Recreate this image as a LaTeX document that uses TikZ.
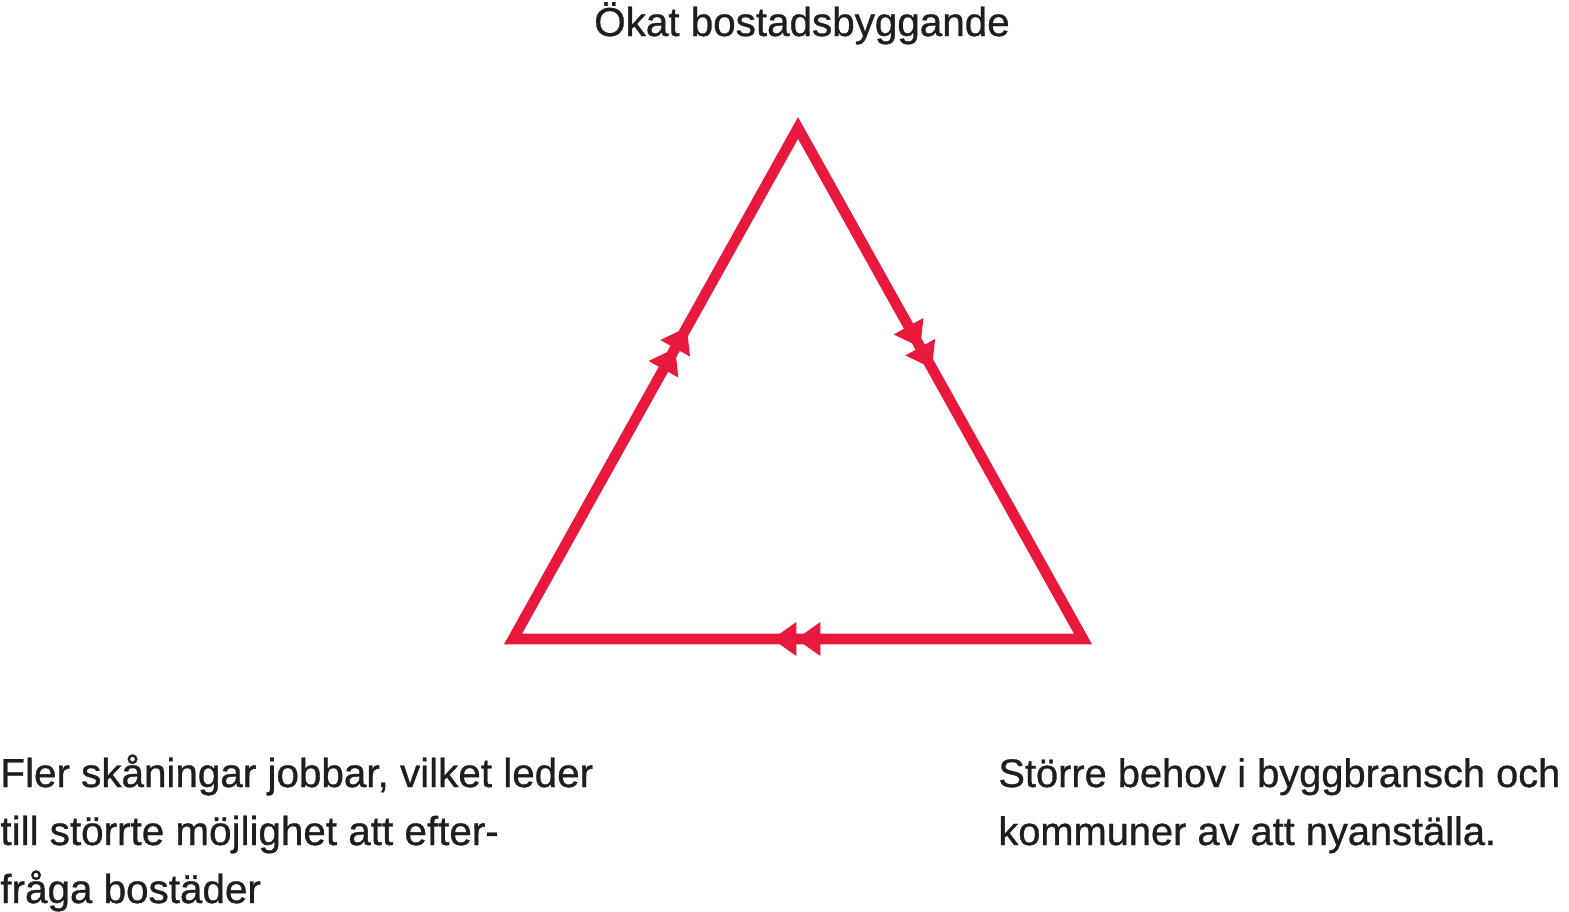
\documentclass[tikz,border=0pt]{standalone}
\usepackage{fontspec}
\setmainfont{Liberation Sans}
\newfontfamily\labelfont{Liberation Sans}[FakeBold=0.8]
\usepackage{xcolor}
\usetikzlibrary{arrows.meta,decorations.markings}

\definecolor{cyclered}{RGB}{232,25,60}
\definecolor{labelgray}{RGB}{30,30,30}

\tikzset{
	side/.style={cyclered,line width=5.3pt,line join=miter},
	label/.style={labelgray,inner sep=0pt,font=\labelfont\fontsize{20.2}{29}\selectfont},
	midtips/.style={postaction={decorate},decoration={markings,
		mark=at position #1 with {\arrow[cyclered]{Triangle[length=12pt,width=17pt,line width=0pt] Triangle[length=12pt,width=17pt,line width=0pt]}}}}
}

\begin{document}
\begin{tikzpicture}[x=0.5pt,y=-0.5pt]
	\useasboundingbox (0,0) rectangle (1569,911);

	% corners of the loop
	\coordinate (top) at (798,128);
	\coordinate (right) at (1083,639);
	\coordinate (left) at (513,639);

	\draw[side] (top) -- (right) -- (left) -- cycle;
	\path[midtips=0.47] (top) -- (right);
	\path[midtips=0.545] (right) -- (left);
	\path[midtips=0.61] (left) -- (top);

	% texts
	\node[label,anchor=base] (building) at (802,36) {Ökat bostadsbyggande};
	\node[label,anchor=base west,align=left] (jobs) at (0,903)
		{Fler skåningar jobbar, vilket leder\\till störrte möjlighet att efter-\\fråga bostäder};
	\node[label,anchor=base west,align=left,font=\labelfont\fontsize{19.9}{29}\selectfont] (hiring) at (998,845)
		{Större behov i byggbransch och\\kommuner av att nyanställa.};
\end{tikzpicture}
\end{document}
